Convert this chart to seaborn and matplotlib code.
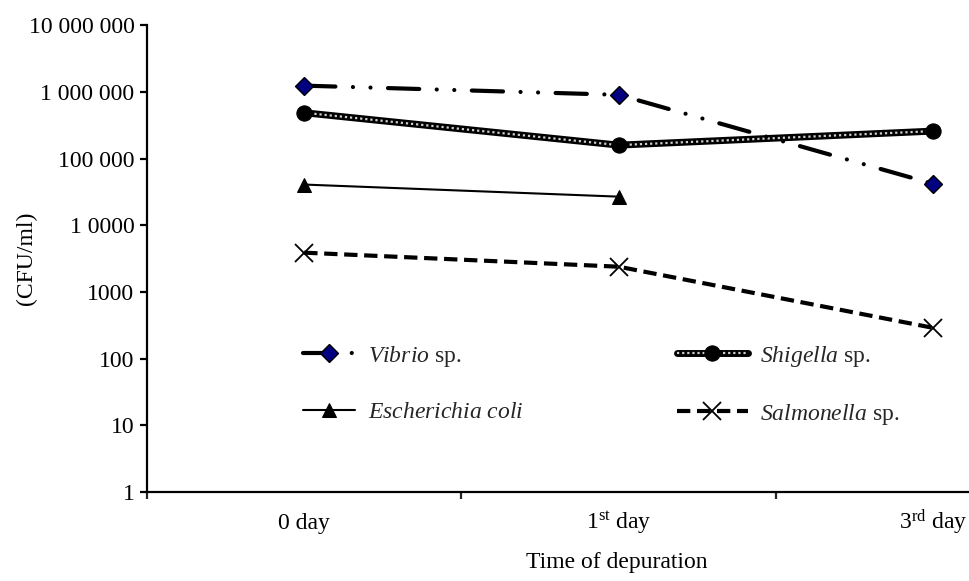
import numpy as np
import pandas as pd
import seaborn as sns
import matplotlib.pyplot as plt
from matplotlib.ticker import NullLocator, FixedLocator
from matplotlib.legend_handler import HandlerTuple

# Data (CFU/ml)
days = ['0 day', '1$^{\\rm st}$ day', '3$^{\\rm rd}$ day']
vibrio = [1.25e6, 9.1e5, 4.2e4]
shigella = [4.9e5, 1.6e5, 2.6e5]
ecoli = [4.1e4, 2.7e4]
salmonella = [3.9e3, 2.4e3, 2.9e2]
ytick_vals = [1, 10, 100, 1000, 1e4, 1e5, 1e6, 1e7]
ytick_labels = ['1', '10', '100', '1000', '1 0000', '100 000', '1 000 000', '10 000 000']

sns.set_theme(style='white')
plt.rcParams['font.family'] = ['Liberation Serif', 'DejaVu Serif']
plt.rcParams['mathtext.fontset'] = 'custom'
plt.rcParams['mathtext.rm'] = 'Liberation Serif'
plt.rcParams['mathtext.it'] = 'Liberation Serif:italic'

FS = 17

fig = plt.figure(figsize=(9.7, 5.81), dpi=100)
ax = fig.add_axes([0.1515, 0.1532, 0.8485, 0.803])

x = np.arange(len(days))

# Vibrio: thick dash-dot-dot with navy diamonds
sns.lineplot(x=x, y=vibrio, ax=ax, color='black', linewidth=3,
             linestyle=(0, (7.5, 4.2, 0.01, 4.2, 0.01, 4.2)),
             marker='D', markersize=9, markerfacecolor='#000080',
             markeredgecolor='black', markeredgewidth=1, zorder=3)
ax.lines[-1].set_dash_capstyle('round')
h_vib = ax.lines[-1]

# Shigella: black thick line with light dotted core
sns.lineplot(x=x, y=shigella, ax=ax, color='black', linewidth=5, zorder=2)
h_sh1 = ax.lines[-1]
sns.lineplot(x=x, y=shigella, ax=ax, color='#cfcfcf', linewidth=1.6,
             linestyle=(0, (1, 1.3)), zorder=2.1)
h_sh2 = ax.lines[-1]
sns.lineplot(x=x, y=shigella, ax=ax, color='black', linestyle='none',
             marker='o', markersize=11, markeredgecolor='black', zorder=3)
h_sh3 = ax.lines[-1]

# E. coli: thin solid line with triangles
sns.lineplot(x=x[:len(ecoli)], y=ecoli, ax=ax, color='black', linewidth=1.5,
             marker='^', markersize=10, markeredgecolor='black', zorder=3)
h_ec = ax.lines[-1]

# Salmonella: thick dashed line with x markers
sns.lineplot(x=x, y=salmonella, ax=ax, color='black', linewidth=3,
             linestyle=(0, (3.2, 1.6)),
             marker='x', markersize=13, markeredgewidth=1.3,
             markeredgecolor='black', zorder=3)
h_sa = ax.lines[-1]

ax.set_yscale('log')
ax.set_ylim(1, 1e7)
ax.set_yticks(ytick_vals)
ax.set_yticklabels(ytick_labels)
ax.yaxis.set_minor_locator(NullLocator())

ax.set_xlim(-0.5, 2.117)
ax.xaxis.set_major_locator(FixedLocator([-0.5, 0.5, 1.5]))
ax.set_xticklabels([])
ax.xaxis.set_minor_locator(FixedLocator(list(x)))
ax.set_xticklabels(days, minor=True)
for lbl in ax.get_xticklabels(minor=True):
    lbl.set_verticalalignment('baseline')

for s in ['top', 'right']:
    ax.spines[s].set_visible(False)
for s in ['left', 'bottom']:
    ax.spines[s].set_linewidth(1.6)
    ax.spines[s].set_color('black')

ax.tick_params(axis='y', which='major', direction='out', length=5, width=1.6,
               left=True, labelsize=FS, pad=4, colors='black')
ax.tick_params(axis='x', which='major', direction='out', length=5, width=1.6,
               bottom=True)
ax.tick_params(axis='x', which='minor', length=0, labelsize=FS, pad=27,
               labelcolor='black')

ax.set_ylabel('(CFU/ml)', fontsize=FS, color='black')
ax.yaxis.set_label_coords(-0.133, 0.5)
ax.set_xlabel('Time of depuration', fontsize=FS, color='black')
ax.xaxis.set_label_coords(0.571, -0.128)

leg1 = ax.legend([h_vib, h_ec],
                 ['$\\it{Vibrio}$ sp.', '$\\it{Escherichia\\ coli}$'],
                 loc='upper left', bbox_to_anchor=(0.1896, 0.318),
                 frameon=False, fontsize=FS, handlelength=2.2,
                 handletextpad=0.55, labelspacing=1.4, borderpad=0,
                 borderaxespad=0, numpoints=1)
ax.add_artist(leg1)
ax.legend([(h_sh1, h_sh2, h_sh3), h_sa],
          ['$\\it{Shigella}$ sp.', '$\\it{Salmonella}$ sp.'],
          handler_map={tuple: HandlerTuple(ndivide=1)},
          loc='upper left', bbox_to_anchor=(0.644, 0.318),
          frameon=False, fontsize=FS, handlelength=3.0,
          handletextpad=0.5, labelspacing=1.4, borderpad=0,
          borderaxespad=0, numpoints=1)

fig.savefig('out.png', dpi=100)
